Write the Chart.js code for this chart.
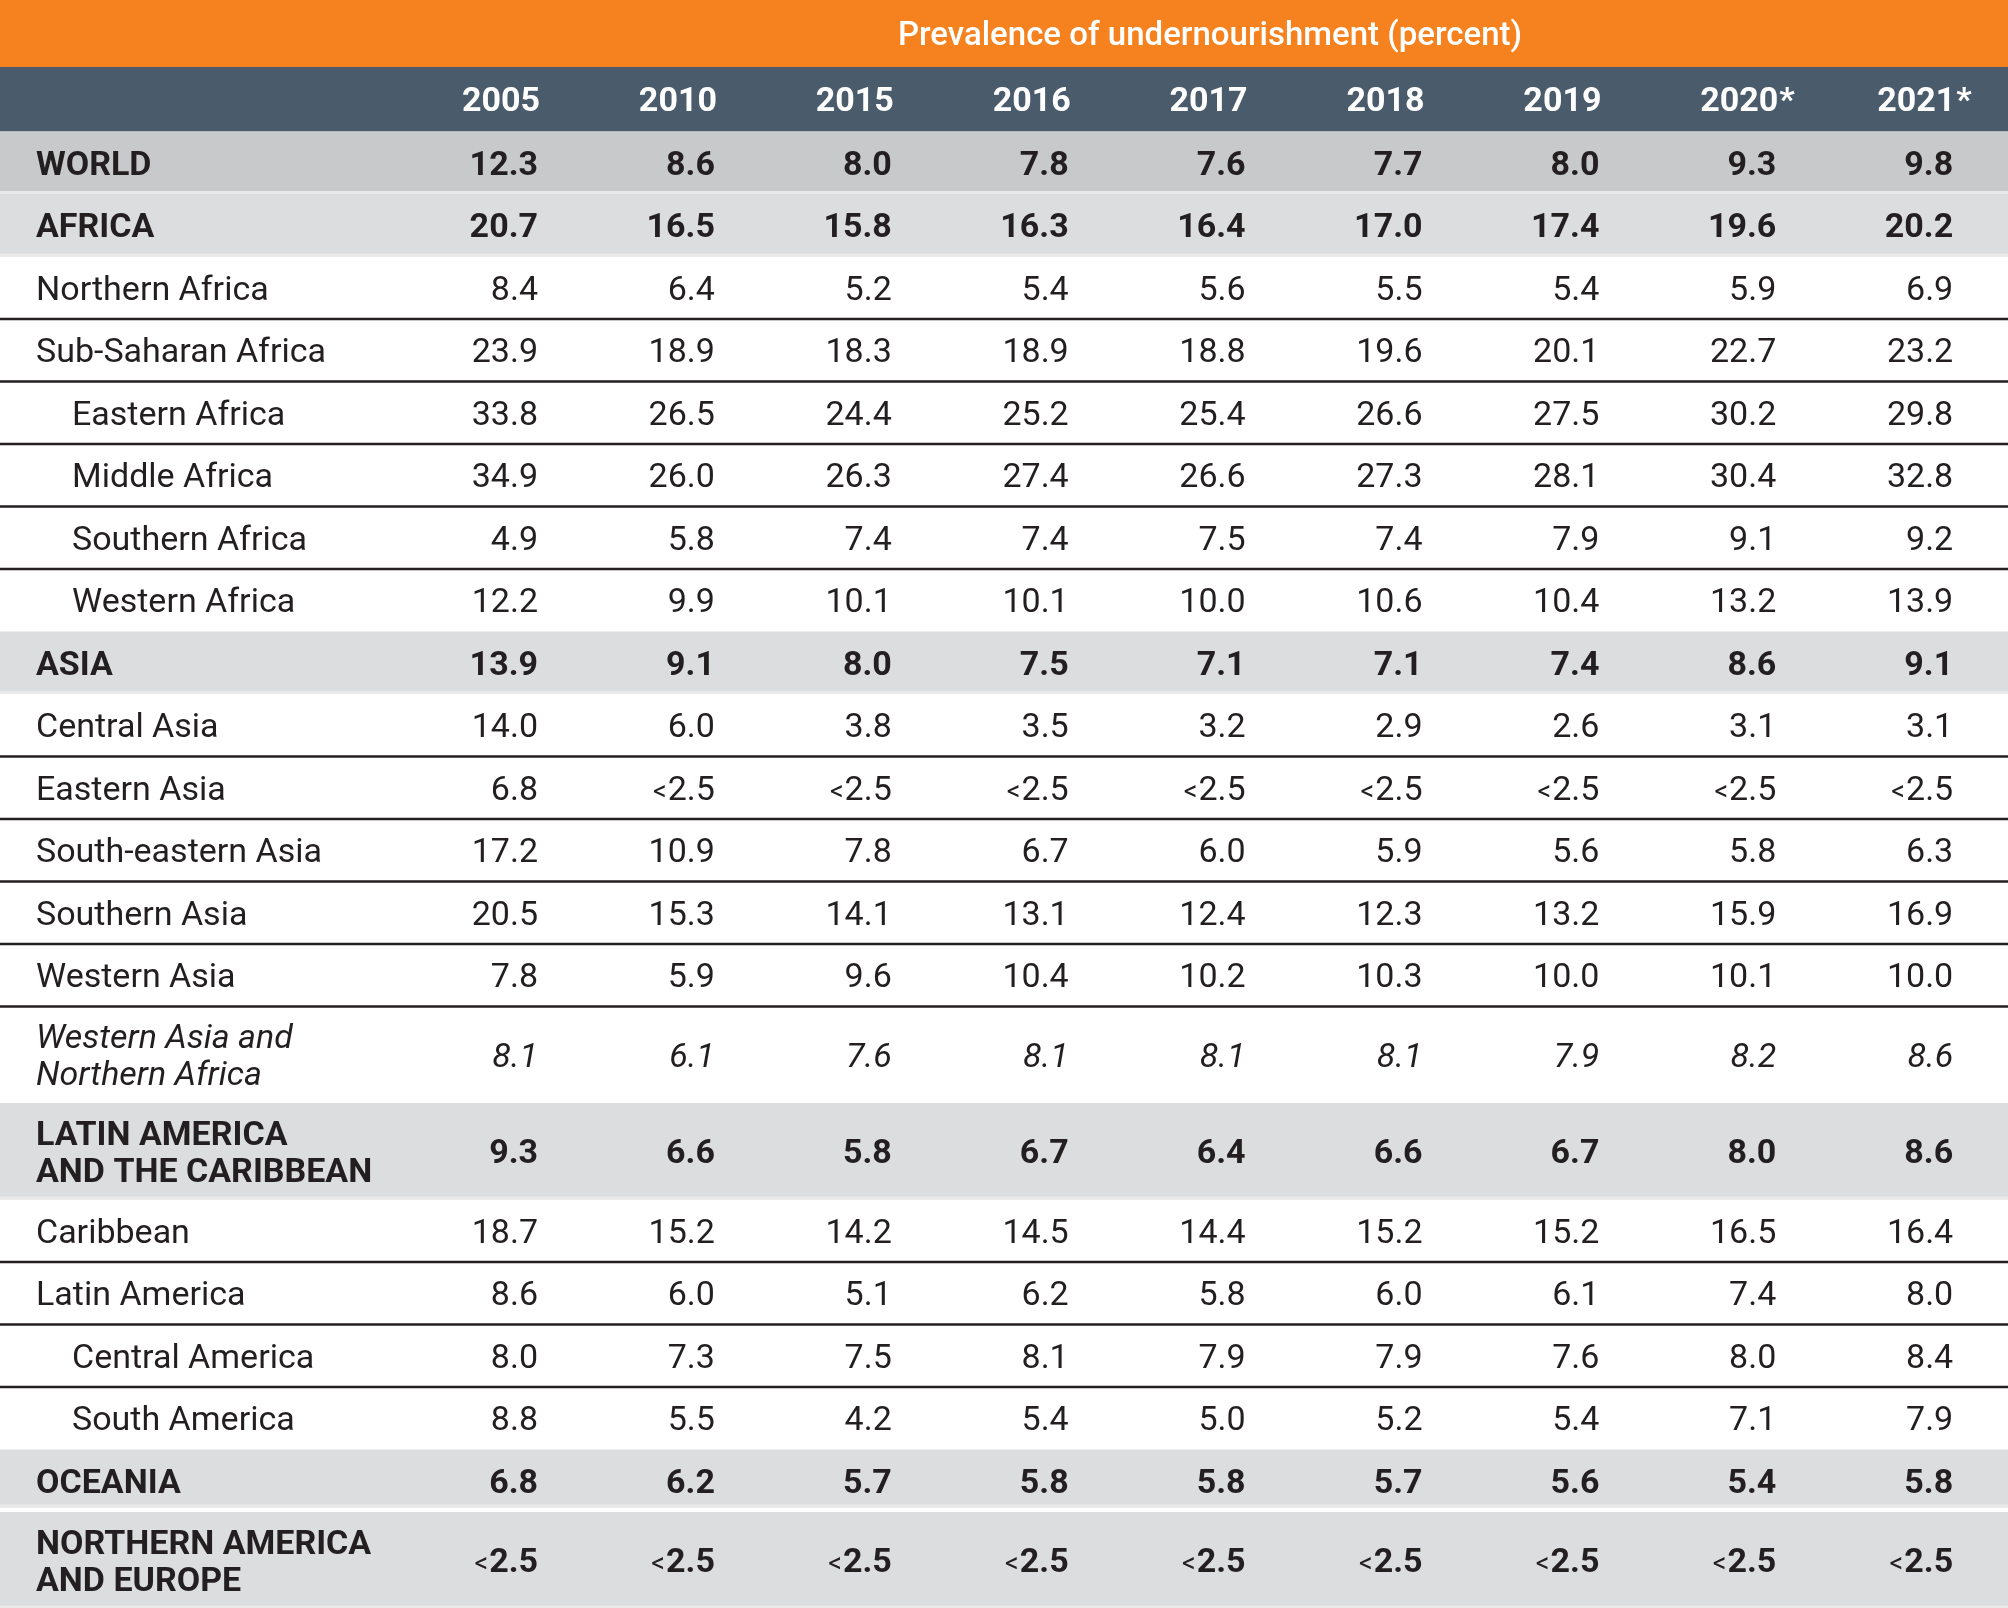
<!DOCTYPE html>
<html>
<head>
<meta charset="utf-8">
<script src="https://cdn.jsdelivr.net/npm/chart.js@4.4.0/dist/chart.umd.min.js"></script>
<style>
  body { margin: 0; background: #fff; }
  #wrap { width: 2008px; height: 1608px; }
</style>
</head>
<body>
<div id="wrap"><canvas id="tableCanvas" width="2008" height="1608"></canvas></div>
<script>
// ---- data ----
var title = 'Prevalence of undernourishment (percent)';
var years = ['2005', '2010', '2015', '2016', '2017', '2018', '2019', '2020*', '2021*'];
var LT = '<2.5';

var regions = [
    'WORLD', 'AFRICA', 'Northern Africa', 'Sub-Saharan Africa',
    'Eastern Africa', 'Middle Africa', 'Southern Africa', 'Western Africa',
    'ASIA', 'Central Asia', 'Eastern Asia', 'South-eastern Asia', 'Southern Asia', 'Western Asia',
    'Western Asia and\nNorthern Africa',
    'LATIN AMERICA\nAND THE CARIBBEAN', 'Caribbean', 'Latin America', 'Central America', 'South America',
    'OCEANIA', 'NORTHERN AMERICA\nAND EUROPE'
];
// world / region / sub (subregion) / subsub (nested) / agg (aggregate shown in italics)
var rowKind = [
    'world', 'region', 'sub', 'sub', 'subsub', 'subsub', 'subsub', 'subsub',
    'region', 'sub', 'sub', 'sub', 'sub', 'sub', 'agg',
    'region', 'sub', 'sub', 'subsub', 'subsub', 'region', 'region'
];

var v2005 = [12.3, 20.7, 8.4, 23.9, 33.8, 34.9, 4.9, 12.2, 13.9, 14.0, 6.8, 17.2, 20.5, 7.8, 8.1, 9.3, 18.7, 8.6, 8.0, 8.8, 6.8, LT];
var v2010 = [8.6, 16.5, 6.4, 18.9, 26.5, 26.0, 5.8, 9.9, 9.1, 6.0, LT, 10.9, 15.3, 5.9, 6.1, 6.6, 15.2, 6.0, 7.3, 5.5, 6.2, LT];
var v2015 = [8.0, 15.8, 5.2, 18.3, 24.4, 26.3, 7.4, 10.1, 8.0, 3.8, LT, 7.8, 14.1, 9.6, 7.6, 5.8, 14.2, 5.1, 7.5, 4.2, 5.7, LT];
var v2016 = [7.8, 16.3, 5.4, 18.9, 25.2, 27.4, 7.4, 10.1, 7.5, 3.5, LT, 6.7, 13.1, 10.4, 8.1, 6.7, 14.5, 6.2, 8.1, 5.4, 5.8, LT];
var v2017 = [7.6, 16.4, 5.6, 18.8, 25.4, 26.6, 7.5, 10.0, 7.1, 3.2, LT, 6.0, 12.4, 10.2, 8.1, 6.4, 14.4, 5.8, 7.9, 5.0, 5.8, LT];
var v2018 = [7.7, 17.0, 5.5, 19.6, 26.6, 27.3, 7.4, 10.6, 7.1, 2.9, LT, 5.9, 12.3, 10.3, 8.1, 6.6, 15.2, 6.0, 7.9, 5.2, 5.7, LT];
var v2019 = [8.0, 17.4, 5.4, 20.1, 27.5, 28.1, 7.9, 10.4, 7.4, 2.6, LT, 5.6, 13.2, 10.0, 7.9, 6.7, 15.2, 6.1, 7.6, 5.4, 5.6, LT];
var v2020 = [9.3, 19.6, 5.9, 22.7, 30.2, 30.4, 9.1, 13.2, 8.6, 3.1, LT, 5.8, 15.9, 10.1, 8.2, 8.0, 16.5, 7.4, 8.0, 7.1, 5.4, LT];
var v2021 = [9.8, 20.2, 6.9, 23.2, 29.8, 32.8, 9.2, 13.9, 9.1, 3.1, LT, 6.3, 16.9, 10.0, 8.6, 8.6, 16.4, 8.0, 8.4, 7.9, 5.8, LT];
var series = [v2005, v2010, v2015, v2016, v2017, v2018, v2019, v2020, v2021];

// ---- layout (in reference units, mapped through the scales) ----
var W = 2008, H = 1608;
var titleBottom = 67, headBottom = 131.5;
var rowH = 62.5, rowH2 = 96.5, groupGap = 4.5;
var colRight0 = 538, colStep = 176.9;
var labelX = 36, indentX = 72, titleX = 1210;
var FS = 34, FONT = 'Roboto, "Liberation Sans", sans-serif';
var capOff = 0.711 * FS / 2;

var ORANGE = '#f5821f', SLATE = '#4a5b6b', GRAY_W = '#c8c9cb', GRAY_R = '#dcdddf', INK = '#231f20';

function isShaded(i) { return rowKind[i] === 'world' || rowKind[i] === 'region'; }

var rowTop = [], rowBot = [];
(function () {
    var y = headBottom;
    for (var i = 0; i < regions.length; i++) {
        rowTop.push(y);
        y += regions[i].indexOf('\n') >= 0 ? rowH2 : rowH;
        rowBot.push(y);
    }
})();

function colX(j) { return colRight0 + j * colStep; }
function rowMid(i) { return (rowTop[i] + rowBot[i]) / 2; }

function fmt(v) { return typeof v === 'number' ? v.toFixed(1) : v; }

var datasets = years.map(function (yr, j) {
    return {
        label: yr,
        data: series[j].map(function (v, i) { return { x: colX(j), y: rowMid(i), v: v }; }),
        pointRadius: 0,
        showLine: false
    };
});

function rowFont(i) {
    var k = rowKind[i];
    if (k === 'world' || k === 'region') return 'bold ' + FS + 'px ' + FONT;
    if (k === 'agg') return 'italic ' + FS + 'px ' + FONT;
    return FS + 'px ' + FONT;
}

var tablePlugin = {
    id: 'tableDraw',
    beforeDatasetsDraw: function (chart) {
        var ctx = chart.ctx, xs = chart.scales.x, ys = chart.scales.y;
        var x0 = xs.getPixelForValue(0), x1 = xs.getPixelForValue(W);
        ctx.save();
        // title band + column header band
        ctx.fillStyle = ORANGE;
        ctx.fillRect(x0, ys.getPixelForValue(0), x1 - x0, ys.getPixelForValue(titleBottom) - ys.getPixelForValue(0));
        ctx.fillStyle = SLATE;
        ctx.fillRect(x0, ys.getPixelForValue(titleBottom), x1 - x0, ys.getPixelForValue(headBottom) - ys.getPixelForValue(titleBottom));
        // row bands (two region bands in a row are split by a white gap)
        regions.forEach(function (r, i) {
            if (!isShaded(i)) return;
            var bot = rowBot[i];
            if (i < regions.length - 1 && rowKind[i] === 'region' && rowKind[i + 1] === 'region') bot -= groupGap;
            var t = ys.getPixelForValue(rowTop[i]), b = ys.getPixelForValue(bot);
            ctx.fillStyle = rowKind[i] === 'world' ? GRAY_W : GRAY_R;
            ctx.fillRect(x0, t, x1 - x0, b - t);
            ctx.fillStyle = '#e9e9ea';
            ctx.fillRect(x0, b - 3, x1 - x0, 3);
        });
        // rules between plain rows
        ctx.strokeStyle = INK;
        ctx.lineWidth = 2.5;
        for (var i = 0; i < regions.length - 1; i++) {
            if (isShaded(i) || isShaded(i + 1)) continue;
            var y = ys.getPixelForValue(rowBot[i]);
            ctx.beginPath();
            ctx.moveTo(x0, y);
            ctx.lineTo(x1, y);
            ctx.stroke();
        }
        ctx.restore();
    },
    afterDatasetsDraw: function (chart) {
        var ctx = chart.ctx, xs = chart.scales.x, ys = chart.scales.y;
        ctx.save();
        ctx.textBaseline = 'alphabetic';

        // title
        ctx.fillStyle = '#ffffff';
        ctx.textAlign = 'center';
        ctx.font = '500 33px ' + FONT;
        ctx.fillText(title, xs.getPixelForValue(titleX), ys.getPixelForValue(titleBottom / 2) + 0.711 * 33 / 2);

        // year headers (asterisk hangs past the column edge)
        ctx.font = 'bold ' + FS + 'px ' + FONT;
        years.forEach(function (yr, j) {
            var x = xs.getPixelForValue(colX(j) + 2), y = ys.getPixelForValue((titleBottom + headBottom) / 2) + capOff;
            var star = yr.indexOf('*') >= 0;
            ctx.textAlign = 'right';
            ctx.fillText(yr.replace('*', ''), x, y);
            if (star) {
                ctx.textAlign = 'left';
                ctx.fillText('*', x + 1, y);
            }
        });

        // row labels
        ctx.fillStyle = INK;
        ctx.textAlign = 'left';
        regions.forEach(function (r, i) {
            ctx.font = rowFont(i);
            var lx = xs.getPixelForValue(rowKind[i] === 'subsub' ? indentX : labelX);
            var lines = r.split('\n');
            var mid = rowMid(i);
            lines.forEach(function (ln, k) {
                var y = ys.getPixelForValue(mid + (k - (lines.length - 1) / 2) * 37) + capOff;
                ctx.fillText(ln, lx, y);
            });
        });

        // cell values from the dataset elements
        chart.data.datasets.forEach(function (ds, j) {
            var meta = chart.getDatasetMeta(j);
            meta.data.forEach(function (el, i) {
                var txt = fmt(ds.data[i].v);
                var y = el.y + capOff;
                ctx.textAlign = 'right';
                ctx.font = rowFont(i);
                if (txt.charAt(0) === '<') {
                    var rest = txt.slice(1);
                    ctx.fillText(rest, el.x, y);
                    var w = ctx.measureText(rest).width;
                    ctx.font = '27px ' + FONT;
                    ctx.fillText('<', el.x - w - 1, y);
                } else {
                    ctx.fillText(txt, el.x, y);
                }
            });
        });
        ctx.restore();
    }
};

new Chart(document.getElementById('tableCanvas'), {
    type: 'scatter',
    data: { datasets: datasets },
    options: {
        responsive: false,
        animation: false,
        events: [],
        layout: { padding: 0 },
        scales: {
            x: { type: 'linear', min: 0, max: W, display: false },
            y: { type: 'linear', min: 0, max: H, reverse: true, display: false }
        },
        plugins: { legend: { display: false }, tooltip: { enabled: false } }
    },
    plugins: [tablePlugin]
});
</script>
</body>
</html>
